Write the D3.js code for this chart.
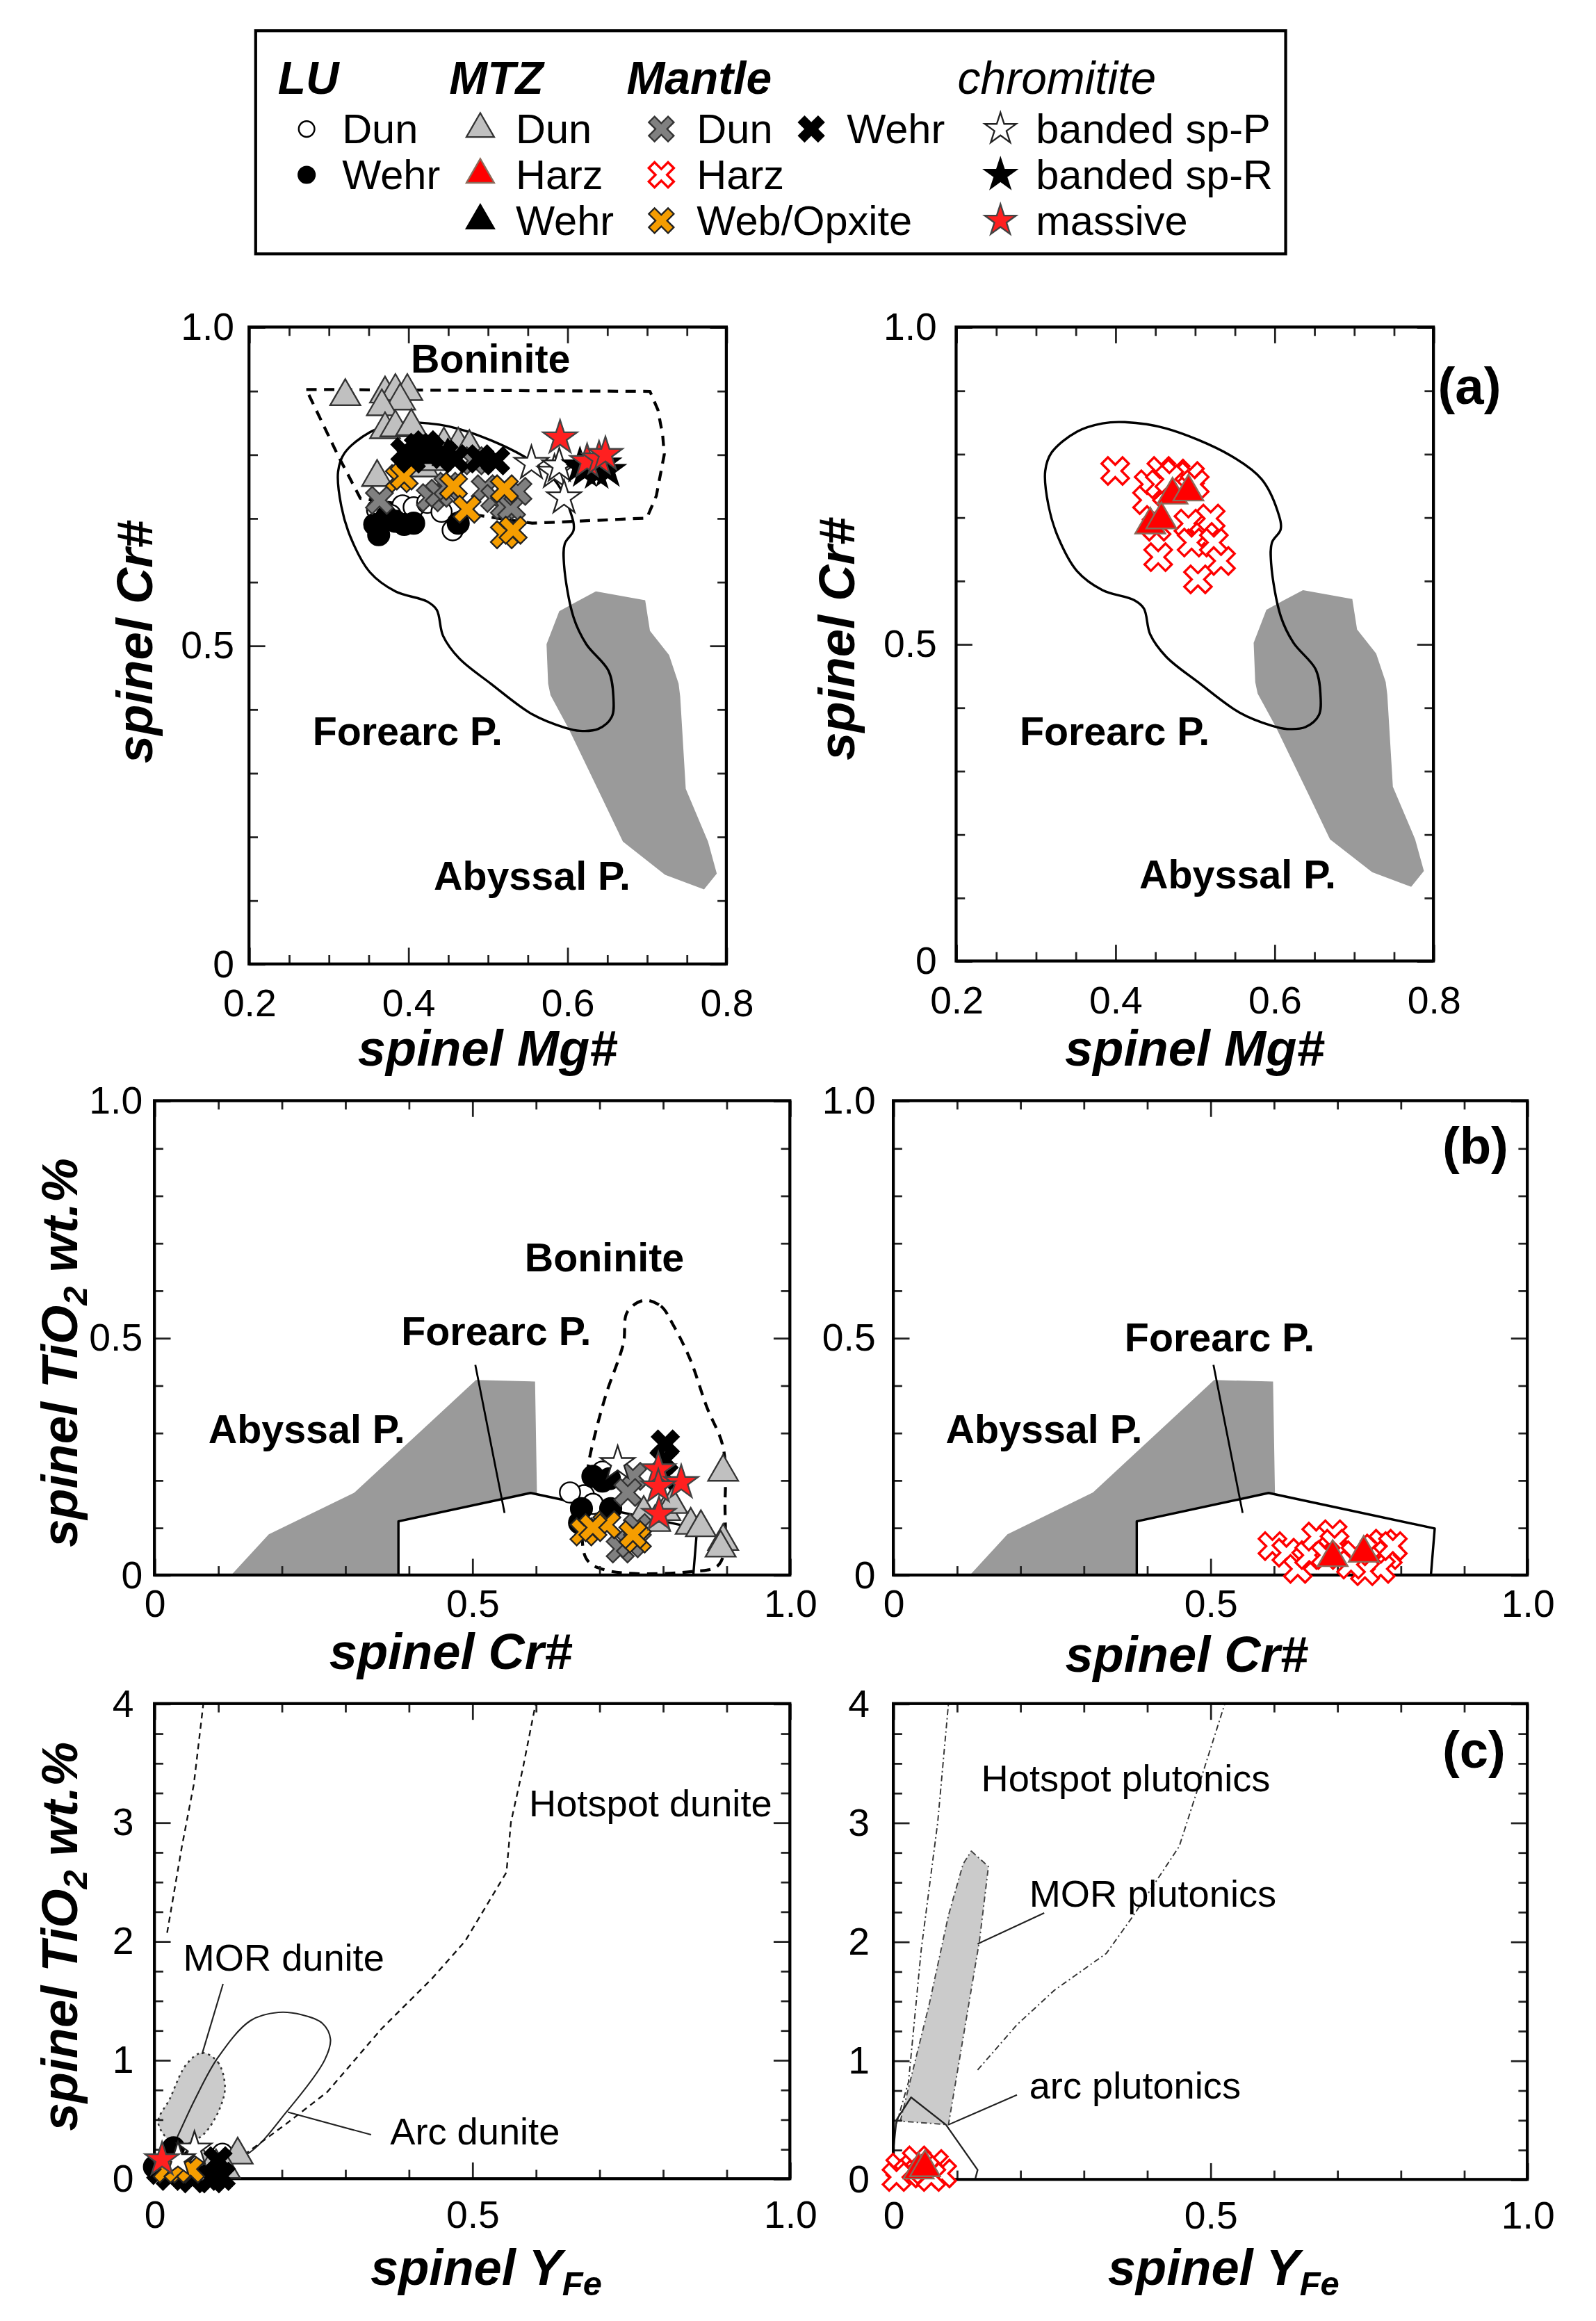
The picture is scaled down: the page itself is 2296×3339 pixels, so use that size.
<!DOCTYPE html>
<html>
<head>
<meta charset="utf-8">
<title>spinel compositions</title>
<script src="https://cdn.jsdelivr.net/npm/d3@7"></script>
<style>
  body { margin: 0; background: #fff; }
  svg text { font-family: "Liberation Sans", Arial, Helvetica, sans-serif; }
</style>
</head>
<body>
<script>
// ---------- data ----------
// tick labels
const ticksA_x = [0.2, 0.4, 0.6, 0.8], labelsA_x = ["0.2", "0.4", "0.6", "0.8"];
const ticksA_y = [0, 0.5, 1], labelsA_y = ["0", "0.5", "1.0"];
const ticksB = [0, 0.5, 1], labelsB = ["0", "0.5", "1.0"];
const ticksC_x = [0, 0.5, 1], labelsC_x = ["0", "0.5", "1.0"];
const ticksC_y = [0, 1, 2, 3, 4], labelsC_y = ["0", "1", "2", "3", "4"];

// legend
const legendHeads = ["LU", "MTZ", "Mantle", "chromitite"];
const legendItems = [
  ["luDun", "Dun"], ["luWehr", "Wehr"],
  ["mtzDun", "Dun"], ["mtzHarz", "Harz"], ["mtzWehr", "Wehr"],
  ["mantleDun", "Dun"], ["mantleHarz", "Harz"], ["webOpx", "Web/Opxite"],
  ["mantleWehr", "Wehr"],
  ["spP", "banded sp-P"], ["spR", "banded sp-R"], ["massive", "massive"]
];

// (a) fields : Mg# vs Cr#
const forearcA = [[0.412,0.850],[0.464,0.840],[0.544,0.798],[0.584,0.760],[0.604,0.710],[0.608,0.681],
  [0.597,0.660],[0.596,0.627],[0.608,0.544],[0.624,0.502],[0.652,0.460],[0.658,0.420],[0.656,0.388],
  [0.639,0.369],[0.616,0.366],[0.597,0.371],[0.556,0.392],[0.504,0.440],[0.464,0.480],[0.444,0.515],
  [0.436,0.556],[0.424,0.569],[0.384,0.585],[0.352,0.615],[0.328,0.669],[0.316,0.719],[0.312,0.773],
  [0.320,0.802],[0.352,0.835],[0.384,0.848]];
const abyssalA = [[0.636,0.585],[0.698,0.571],[0.704,0.523],[0.728,0.485],[0.740,0.440],[0.742,0.420],
  [0.749,0.275],[0.777,0.192],[0.788,0.142],[0.772,0.117],[0.723,0.140],[0.670,0.192],[0.644,0.260],
  [0.602,0.369],[0.579,0.422],[0.576,0.440],[0.574,0.502],[0.590,0.554],[0.612,0.569]];
const boniniteA = [[0.272,0.902],[0.704,0.899],[0.714,0.870],[0.720,0.830],[0.722,0.800],[0.712,0.735],
  [0.700,0.700],[0.556,0.692],[0.340,0.731],[0.312,0.798]];

// (b) fields : Cr# vs TiO2
const abyssalB = [[0.121,0],[0.180,0.086],[0.315,0.174],[0.506,0.411],[0.599,0.408],[0.602,0.170],[0.602,0]];
const forearcB = [[0.384,0],[0.384,0.113],[0.592,0.173],[0.854,0.098],[0.848,0]];
const forearcLeaderB = [[0.505,0.443],[0.551,0.131]];
const boniniteB = [[0.770,0.579],[0.797,0.567],[0.816,0.528],[0.843,0.455],[0.869,0.355],[0.895,0.269],
  [0.898,0.156],[0.889,0.023],[0.843,0.007],[0.711,0.010],[0.679,0.036],[0.682,0.222],[0.692,0.289],
  [0.711,0.382],[0.738,0.488],[0.744,0.554]];

// (c) fields : YFe vs TiO2
const hotspotDunL = [[0.020,2.07],[0.043,2.79],[0.062,3.32],[0.077,4.0]];
const hotspotDunR = [[0.141,0.2],[0.207,0.46],[0.272,0.73],[0.357,1.26],[0.436,1.68],[0.489,2.0],
  [0.554,2.58],[0.561,3.0],[0.580,3.46],[0.600,4.0]];
const arcDunite = [[0.144,0.2],[0.209,0.57],[0.268,1.0],[0.277,1.175],[0.264,1.31],[0.232,1.38],
  [0.195,1.40],[0.151,1.33],[0.100,1.02],[0.064,0.67],[0.035,0.34],[0.015,0.12],[0.060,0.08]];
const morDunite = [[0.075,1.06],[0.100,0.98],[0.111,0.78],[0.105,0.62],[0.085,0.42],[0.069,0.34],
  [0.035,0.28],[0.006,0.47],[0.024,0.67],[0.050,0.96]];
const morDunLeader = [[0.108,1.64],[0.075,1.05]];
const arcDunLeader = [[0.210,0.56],[0.341,0.37]];
const hotspotPlutL = [[0.005,0.47],[0.024,0.82],[0.044,1.93],[0.070,3.0],[0.087,4.0]];
const hotspotPlutR = [[0.133,0.92],[0.195,1.30],[0.254,1.59],[0.336,1.90],[0.379,2.22],[0.451,2.80],
  [0.477,3.23],[0.523,4.0]];
const morPlut = [[0.123,2.76],[0.150,2.63],[0.136,2.01],[0.087,0.46],[0.011,0.49],[0.057,1.48],
  [0.087,2.22],[0.110,2.65]];
const arcPlut = [[0,0.24],[0.005,0.50],[0.028,0.69],[0.083,0.46],[0.133,0.08],[0.129,0]];
const morPlutLeader = [[0.238,2.24],[0.133,1.98]];
const arcPlutLeader = [[0.195,0.71],[0.087,0.46]];

// samples: [group, x, y]
const ptsA1 = [
  ["luDun",0.361,0.713],["luDun",0.393,0.720],["luDun",0.407,0.717],["luDun",0.424,0.724],
  ["luDun",0.442,0.710],["luDun",0.456,0.681],["luDun",0.378,0.705],
  ["luWehr",0.363,0.674],["luWehr",0.373,0.702],["luWehr",0.384,0.695],["luWehr",0.395,0.690],
  ["luWehr",0.407,0.692],["luWehr",0.463,0.692],["luWehr",0.358,0.690],
  ["mtzDun",0.321,0.891],["mtzDun",0.371,0.895],["mtzDun",0.384,0.899],["mtzDun",0.399,0.899],
  ["mtzDun",0.390,0.884],["mtzDun",0.367,0.875],["mtzDun",0.371,0.839],["mtzDun",0.384,0.842],
  ["mtzDun",0.404,0.844],["mtzDun",0.445,0.815],["mtzDun",0.463,0.815],["mtzDun",0.477,0.811],
  ["mtzDun",0.361,0.764],["mtzDun",0.419,0.779],["mtzDun",0.434,0.789],
  ["mtzWehr",0.430,0.800],["mtzWehr",0.450,0.797],
  ["mantleDun",0.364,0.728],["mantleDun",0.428,0.732],["mantleDun",0.439,0.739],["mantleDun",0.450,0.750],
  ["mantleDun",0.483,0.790],["mantleDun",0.497,0.746],["mantleDun",0.509,0.731],["mantleDun",0.521,0.720],
  ["mantleDun",0.530,0.717],["mantleDun",0.538,0.742],
  ["webOpx",0.389,0.762],["webOpx",0.395,0.766],["webOpx",0.457,0.750],["webOpx",0.474,0.714],
  ["webOpx",0.521,0.746],["webOpx",0.521,0.674],["webOpx",0.532,0.681],
  ["mantleWehr",0.396,0.804],["mantleWehr",0.404,0.793],["mantleWehr",0.413,0.811],["mantleWehr",0.422,0.815],
  ["mantleWehr",0.428,0.807],["mantleWehr",0.445,0.800],["mantleWehr",0.459,0.793],["mantleWehr",0.490,0.793],
  ["mantleWehr",0.510,0.790],
  ["spP",0.555,0.786],["spP",0.584,0.772],["spP",0.590,0.782],["spP",0.596,0.732],
  ["spR",0.616,0.782],["spR",0.622,0.775],["spR",0.637,0.772],["spR",0.651,0.775],["spR",0.645,0.785],
  ["massive",0.591,0.826],["massive",0.625,0.789],["massive",0.640,0.793],["massive",0.648,0.800]
];
const ptsA2 = [
  ["mantleHarz",0.400,0.773],["mantleHarz",0.442,0.752],["mantleHarz",0.458,0.773],["mantleHarz",0.476,0.769],
  ["mantleHarz",0.494,0.765],["mantleHarz",0.500,0.752],["mantleHarz",0.440,0.727],["mantleHarz",0.456,0.752],
  ["mantleHarz",0.468,0.760],["mantleHarz",0.492,0.690],["mantleHarz",0.520,0.698],["mantleHarz",0.512,0.669],
  ["mantleHarz",0.496,0.660],["mantleHarz",0.524,0.660],["mantleHarz",0.452,0.685],["mantleHarz",0.454,0.637],
  ["mantleHarz",0.533,0.631],["mantleHarz",0.504,0.602],
  ["mtzHarz",0.472,0.735],["mtzHarz",0.492,0.740],["mtzHarz",0.444,0.688],["mtzHarz",0.458,0.696]
];
const ptsB1 = [
  ["luDun",0.676,0.168],["luDun",0.705,0.218],["luDun",0.654,0.174],["luDun",0.690,0.150],
  ["luWehr",0.690,0.208],["luWehr",0.705,0.198],["luWehr",0.716,0.203],["luWehr",0.672,0.140],
  ["luWehr",0.718,0.140],["luWehr",0.669,0.110],
  ["mtzDun",0.895,0.217],["mtzDun",0.895,0.071],["mtzDun",0.891,0.057],["mtzDun",0.844,0.105],
  ["mtzDun",0.804,0.134],["mtzDun",0.815,0.149],["mtzDun",0.788,0.111],["mtzDun",0.770,0.130],
  ["mtzDun",0.860,0.100],
  ["mantleDun",0.753,0.208],["mantleDun",0.745,0.174],["mantleDun",0.733,0.055],["mantleDun",0.749,0.066],
  ["mantleDun",0.760,0.100],
  ["webOpx",0.712,0.106],["webOpx",0.676,0.091],["webOpx",0.760,0.076],["webOpx",0.753,0.085],
  ["webOpx",0.690,0.100],
  ["mantleWehr",0.804,0.276],["mantleWehr",0.802,0.242],["mantleWehr",0.800,0.210],
  ["spP",0.729,0.235],
  ["massive",0.793,0.222],["massive",0.829,0.195],["massive",0.793,0.186],["massive",0.794,0.128]
];
const ptsB2 = [
  ["mantleHarz",0.598,0.061],["mantleHarz",0.620,0.047],["mantleHarz",0.638,0.013],["mantleHarz",0.656,0.042],
  ["mantleHarz",0.667,0.081],["mantleHarz",0.693,0.086],["mantleHarz",0.696,0.066],["mantleHarz",0.682,0.042],
  ["mantleHarz",0.729,0.042],["mantleHarz",0.759,0.056],["mantleHarz",0.773,0.066],["mantleHarz",0.780,0.042],
  ["mantleHarz",0.769,0.013],["mantleHarz",0.744,0.008],["mantleHarz",0.722,0.022],["mantleHarz",0.788,0.061],
  ["mtzHarz",0.693,0.037],["mtzHarz",0.742,0.046]
];
const ptsC1 = [
  ["luDun",0.107,0.21],
  ["luWehr",0.030,0.26],["luWehr",0.020,0.05],["luWehr",0.050,0.03],["luWehr",0.080,0.02],["luWehr",0.000,0.10],
  ["mtzDun",0.131,0.20],["mtzDun",0.075,0.12],["mtzDun",0.097,0.10],["mtzDun",0.111,0.08],["mtzDun",0.086,0.06],
  ["mantleWehr",0.010,0.07],["mantleWehr",0.025,0.02],["mantleWehr",0.060,0.00],["mantleWehr",0.090,0.00],
  ["mantleWehr",0.105,0.02],["mantleWehr",0.040,0.12],["mantleWehr",0.100,0.15],
  ["webOpx",0.020,0.08],["webOpx",0.037,0.08],["webOpx",0.057,0.08],
  ["spP",0.063,0.25],["spP",0.037,0.16],
  ["massive",0.012,0.16]
];
const ptsC2 = [
  ["mantleHarz",0.011,0.10],["mantleHarz",0.037,0.16],["mantleHarz",0.064,0.13],["mantleHarz",0.077,0.05],
  ["mantleHarz",0.024,0.05],["mantleHarz",0.050,0.08],["mantleHarz",0.005,0.02],["mantleHarz",0.060,0.02],
  ["mtzHarz",0.040,0.08],["mtzHarz",0.050,0.10]
];

// ---------- drawing ----------
var svg = d3.select("body").append("svg")
  .attr("width", 2296)
  .attr("height", 3339)
  .attr("viewBox", "0 0 1080 1570");

// bold "x" cross used for the mantle samples
var xShape = {
  draw: function(ctx, size) {
    var a = Math.sqrt(size) / 2, t = a * 0.3;
    var p = [[-t,-a],[t,-a],[t,-t],[a,-t],[a,t],[t,t],[t,a],[-t,a],[-t,t],[-a,t],[-a,-t],[-t,-t]];
    p.forEach(function(q, i) {
      var rx = (q[0] - q[1]) * Math.SQRT1_2, ry = (q[0] + q[1]) * Math.SQRT1_2;
      if (i) ctx.lineTo(rx, ry); else ctx.moveTo(rx, ry);
    });
    ctx.closePath();
  }
};

var style = {
  luDun:      {type: d3.symbolCircle,   size: 150, fill: "#fff",    stroke: "#000"},
  luWehr:     {type: d3.symbolCircle,   size: 165, fill: "#000",    stroke: "#000"},
  mtzDun:     {type: d3.symbolTriangle, size: 180, fill: "#c0c0c0", stroke: "#333"},
  mtzHarz:    {type: d3.symbolTriangle, size: 180, fill: "#ff0000", stroke: "#8b6b5b"},
  mtzWehr:    {type: d3.symbolTriangle, size: 180, fill: "#000",    stroke: "#000"},
  mantleDun:  {type: xShape,            size: 400, fill: "#808080", stroke: "#333"},
  mantleHarz: {type: xShape,            size: 400, fill: "#fff",    stroke: "#ff0000"},
  webOpx:     {type: xShape,            size: 400, fill: "#f59d00", stroke: "#222"},
  mantleWehr: {type: xShape,            size: 400, fill: "#000",    stroke: "#000"},
  spP:        {type: d3.symbolStar,     size: 165, fill: "#fff",    stroke: "#222"},
  spR:        {type: d3.symbolStar,     size: 165, fill: "#000",    stroke: "#000"},
  massive:    {type: d3.symbolStar,     size: 165, fill: "#ff2020", stroke: "#444"}
};

function steps(d, s) {
  var n = Math.round((d[1] - d[0]) / s);
  return d3.range(n + 1).map(function(i) { return +(d[0] + i * s).toFixed(4); });
}

function makePanel(p) {
  var x = d3.scaleLinear().domain(p.xd).range([p.left, p.right]);
  var y = d3.scaleLinear().domain(p.yd).range([p.bottom, p.top]);
  var g = svg.append("g");
  var fields = g.append("g"), frame = g.append("g"), marks = g.append("g");

  var xMaj = steps(p.xd, p.xMajor), yMaj = steps(p.yd, p.yMajor);
  var xMin = steps(p.xd, p.xMinor).filter(function(v) { return xMaj.indexOf(v) < 0; });
  var yMin = steps(p.yd, p.yMinor).filter(function(v) { return yMaj.indexOf(v) < 0; });

  var sides = [
    [function() { return d3.axisBottom(x); }, "translate(0," + p.bottom + ")", xMin, xMaj],
    [function() { return d3.axisTop(x); }, "translate(0," + p.top + ")", xMin, xMaj],
    [function() { return d3.axisLeft(y); }, "translate(" + p.left + ",0)", yMin, yMaj],
    [function() { return d3.axisRight(y); }, "translate(" + p.right + ",0)", yMin, yMaj]
  ];
  sides.forEach(function(s) {
    [[s[2], 6], [s[3], 11]].forEach(function(set) {
      frame.append("g").attr("transform", s[1])
        .call(s[0]().tickValues(set[0]).tickSize(-set[1]).tickFormat(""))
        .call(function(a) { a.select(".domain").remove(); })
        .selectAll("line").attr("stroke", "#222").attr("stroke-width", 1.3);
    });
  });

  frame.append("rect")
    .attr("x", p.left).attr("y", p.top)
    .attr("width", p.right - p.left).attr("height", p.bottom - p.top)
    .attr("fill", "none").attr("stroke", "#000").attr("stroke-width", 2);

  frame.append("g").attr("transform", "translate(0," + p.bottom + ")")
    .call(d3.axisBottom(x).tickValues(p.xt).tickSize(0).tickPadding(p.xpad)
      .tickFormat(function(d, i) { return p.xl[i]; }))
    .call(function(a) { a.select(".domain").remove(); })
    .attr("font-size", 26);
  frame.append("g").attr("transform", "translate(" + p.left + ",0)")
    .call(d3.axisLeft(y).tickValues(p.yt).tickSize(0).tickPadding(p.ypad)
      .tickFormat(function(d, i) { return p.yl[i]; }))
    .call(function(a) { a.select(".domain").remove(); })
    .attr("font-size", 26);
  frame.selectAll(".tick text").attr("fill", "#000");

  return {x: x, y: y, fields: fields, marks: marks};
}

function field(P, pts, o) {
  var line = d3.line()
    .x(function(d) { return P.x(d[0]); })
    .y(function(d) { return P.y(d[1]); })
    .curve(o.curve || d3.curveLinearClosed);
  P.fields.append("path").attr("d", line(pts))
    .attr("fill", o.fill || "none")
    .attr("stroke", o.stroke || "none")
    .attr("stroke-width", o.sw || 1)
    .attr("stroke-dasharray", o.dash || null)
    .attr("stroke-linejoin", "round");
}

function label(g, x, y, str, size, weight, anchor, fstyle) {
  return g.append("text").attr("x", x).attr("y", y)
    .attr("font-size", size).attr("font-weight", weight || "normal")
    .attr("font-style", fstyle || "normal")
    .attr("text-anchor", anchor || "start").attr("fill", "#000").text(str);
}

function marker(g, key, cx, cy, scale) {
  var s = style[key];
  g.append("path")
    .attr("transform", "translate(" + cx + "," + cy + ")")
    .attr("d", d3.symbol(s.type, s.size * (scale || 1))())
    .attr("fill", s.fill).attr("stroke", s.stroke)
    .attr("stroke-width", key === "mantleHarz" ? 1.6 : 1.1);
}

function points(P, pts) {
  pts.forEach(function(d) { marker(P.marks, d[0], P.x(d[1]), P.y(d[2])); });
}

// ---------- legend ----------
var leg = svg.append("g");
leg.append("rect").attr("x", 173).attr("y", 20.5).attr("width", 697).attr("height", 151)
  .attr("fill", "#fff").attr("stroke", "#000").attr("stroke-width", 2);
var headX = [188, 304, 424, 648];
legendHeads.forEach(function(h, i) {
  label(leg, headX[i], 63, h, 31, i < 3 ? "bold" : "normal", "start", "italic");
});
var slot = {luDun:[0,0], luWehr:[0,1], mtzDun:[1,0], mtzHarz:[1,1], mtzWehr:[1,2],
  mantleDun:[2,0], mantleHarz:[2,1], webOpx:[2,2], mantleWehr:[3,0], spP:[4,0], spR:[4,1], massive:[4,2]};
var colX = [207.5, 325, 447.5, 549, 677], rowY = [96.5, 127.5, 158.5];
legendItems.forEach(function(it) {
  var c = slot[it[0]];
  marker(leg, it[0], colX[c[0]], rowY[c[1]] - 9.5, it[0].indexOf("lu") === 0 ? 0.6 : 0.85);
  label(leg, colX[c[0]] + 24, rowY[c[1]], it[1], 28);
});

// ---------- (a) ----------
var A1 = makePanel({left: 168.5, right: 491.5, top: 221, bottom: 652, xd: [0.2, 0.8], yd: [0, 1],
  xMinor: 0.05, xMajor: 0.2, yMinor: 0.1, yMajor: 0.5,
  xt: ticksA_x, xl: labelsA_x, yt: ticksA_y, yl: labelsA_y, xpad: 17, ypad: 10});
var A2 = makePanel({left: 647, right: 970, top: 221, bottom: 650, xd: [0.2, 0.8], yd: [0, 1],
  xMinor: 0.05, xMajor: 0.2, yMinor: 0.1, yMajor: 0.5,
  xt: ticksA_x, xl: labelsA_x, yt: ticksA_y, yl: labelsA_y, xpad: 17, ypad: 13});

[A1, A2].forEach(function(P) {
  field(P, abyssalA, {fill: "#9a9a9a"});
  field(P, forearcA, {stroke: "#000", sw: 1.6, curve: d3.curveCatmullRomClosed});
});
field(A1, boniniteA, {stroke: "#000", sw: 2, dash: "7,5"});

label(A1.fields, 278, 252, "Boninite", 27, "bold");
label(A1.fields, 211.5, 504, "Forearc P.", 27, "bold");
label(A1.fields, 293.5, 602, "Abyssal P.", 27, "bold");
label(A2.fields, 690, 504, "Forearc P.", 27, "bold");
label(A2.fields, 771, 601, "Abyssal P.", 27, "bold");
label(svg, 973, 273, "(a)", 35, "bold");

points(A1, ptsA1);
points(A2, ptsA2);

label(svg, 330, 721, "spinel Mg#", 34, "bold", "middle", "italic");
label(svg, 808.5, 721, "spinel Mg#", 34, "bold", "middle", "italic");
label(svg, 0, 0, "spinel Cr#", 34, "bold", "middle", "italic")
  .attr("transform", "translate(103,434) rotate(-90)");
label(svg, 0, 0, "spinel Cr#", 34, "bold", "middle", "italic")
  .attr("transform", "translate(578,432) rotate(-90)");

// ---------- (b) ----------
var B1 = makePanel({left: 104.5, right: 534.5, top: 744.5, bottom: 1065.5, xd: [0, 1], yd: [0, 1],
  xMinor: 0.1, xMajor: 0.5, yMinor: 0.1, yMajor: 0.5,
  xt: ticksB, xl: labelsB, yt: ticksB, yl: labelsB, xpad: 10, ypad: 8});
var B2 = makePanel({left: 604.5, right: 1033.5, top: 744.5, bottom: 1065.5, xd: [0, 1], yd: [0, 1],
  xMinor: 0.1, xMajor: 0.5, yMinor: 0.1, yMajor: 0.5,
  xt: ticksB, xl: labelsB, yt: ticksB, yl: labelsB, xpad: 10, ypad: 12});

[B1, B2].forEach(function(P) {
  field(P, abyssalB, {fill: "#9a9a9a"});
  field(P, forearcB, {fill: "#fff", stroke: "#000", sw: 1.6});
  field(P, forearcLeaderB, {stroke: "#000", sw: 1.3, curve: d3.curveLinear});
});
field(B1, boniniteB, {stroke: "#000", sw: 2, dash: "7,5", curve: d3.curveCatmullRomClosed});

label(B1.fields, 355, 860, "Boninite", 27, "bold");
label(B1.fields, 271.5, 910, "Forearc P.", 27, "bold");
label(B1.fields, 141, 976, "Abyssal P.", 27, "bold");
label(B2.fields, 761, 914, "Forearc P.", 27, "bold");
label(B2.fields, 640, 976, "Abyssal P.", 27, "bold");
label(svg, 976, 787, "(b)", 35, "bold");

points(B1, ptsB1);
points(B2, ptsB2);

label(svg, 305, 1129, "spinel Cr#", 34, "bold", "middle", "italic");
label(svg, 803, 1131, "spinel Cr#", 34, "bold", "middle", "italic");

function tiTitle(cx, cy) {
  var t = svg.append("text").attr("transform", "translate(" + cx + "," + cy + ") rotate(-90)")
    .attr("text-anchor", "middle").attr("font-size", 34).attr("font-weight", "bold")
    .attr("font-style", "italic").attr("fill", "#000");
  t.append("tspan").text("spinel TiO");
  t.append("tspan").attr("font-size", 23).attr("dy", 7).text("2");
  t.append("tspan").attr("dy", -7).text(" wt.%");
}
tiTitle(52, 915);

// ---------- (c) ----------
var C1 = makePanel({left: 104.5, right: 534.5, top: 1152.5, bottom: 1474, xd: [0, 1], yd: [0, 4],
  xMinor: 0.1, xMajor: 0.5, yMinor: 0.25, yMajor: 1,
  xt: ticksC_x, xl: labelsC_x, yt: ticksC_y, yl: labelsC_y, xpad: 15, ypad: 14});
var C2 = makePanel({left: 604.5, right: 1033.5, top: 1152.5, bottom: 1474.5, xd: [0, 1], yd: [0, 4],
  xMinor: 0.1, xMajor: 0.5, yMinor: 0.25, yMajor: 1,
  xt: ticksC_x, xl: labelsC_x, yt: ticksC_y, yl: labelsC_y, xpad: 15, ypad: 16});

field(C1, morDunite, {fill: "#cbcbcb", stroke: "#333", sw: 1.2, dash: "1.5,2.5", curve: d3.curveCatmullRomClosed});
field(C1, arcDunite, {stroke: "#222", sw: 1, curve: d3.curveCatmullRomClosed});
field(C1, hotspotDunL, {stroke: "#111", sw: 1.1, dash: "4,3", curve: d3.curveLinear});
field(C1, hotspotDunR, {stroke: "#111", sw: 1.1, dash: "4,3", curve: d3.curveLinear});
field(C1, morDunLeader, {stroke: "#222", sw: 1, curve: d3.curveLinear});
field(C1, arcDunLeader, {stroke: "#222", sw: 1, curve: d3.curveLinear});
label(C1.fields, 358, 1229, "Hotspot dunite", 25.5);
label(C1.fields, 124, 1333, "MOR dunite", 25.5);
label(C1.fields, 264, 1451, "Arc dunite", 25.5);

field(C2, morPlut, {fill: "#cbcbcb", stroke: "#444", sw: 0.9, dash: "4,2,1,2"});
field(C2, hotspotPlutL, {stroke: "#333", sw: 0.9, dash: "4,2,1,2", curve: d3.curveLinear});
field(C2, hotspotPlutR, {stroke: "#333", sw: 0.9, dash: "4,2,1,2", curve: d3.curveLinear});
field(C2, arcPlut, {stroke: "#222", sw: 1.1, curve: d3.curveLinear});
field(C2, morPlutLeader, {stroke: "#222", sw: 1, curve: d3.curveLinear});
field(C2, arcPlutLeader, {stroke: "#222", sw: 1, curve: d3.curveLinear});
label(C2.fields, 664, 1212, "Hotspot plutonics", 25.5);
label(C2.fields, 696.5, 1290, "MOR plutonics", 25.5);
label(C2.fields, 696.5, 1420, "arc plutonics", 25.5);
label(svg, 976, 1196, "(c)", 35, "bold");

points(C1, ptsC1);
points(C2, ptsC2);

tiTitle(52, 1310);
function yfeTitle(cx) {
  var t = svg.append("text").attr("x", cx).attr("y", 1546)
    .attr("text-anchor", "middle").attr("font-size", 34).attr("font-weight", "bold")
    .attr("font-style", "italic").attr("fill", "#000");
  t.append("tspan").text("spinel Y");
  t.append("tspan").attr("font-size", 23).attr("dy", 7).text("Fe");
}
yfeTitle(329);
yfeTitle(828);
</script>
</body>
</html>
